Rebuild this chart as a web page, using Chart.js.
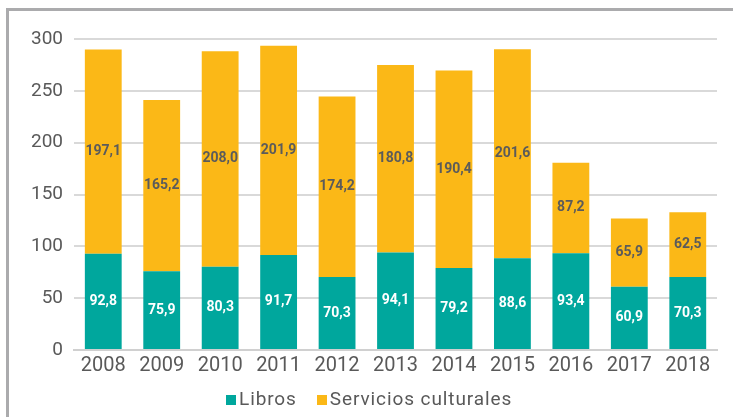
<!DOCTYPE html>
<html>
<head>
<meta charset="utf-8">
<script src="https://cdn.jsdelivr.net/npm/chart.js@4"></script>
<style>
  html, body { margin: 0; padding: 0; background: #fff; }
  #wrap { position: relative; width: 733px; height: 417px; overflow: hidden; }
  #frame { position: absolute; left: 6px; top: 8px; right: -10px; bottom: -10px;
           border-left: 3px solid #ababad; border-top: 3px solid #ababad; }
  canvas { position: absolute; left: 0; top: 0; }
  #legend { position: absolute; left: 226px; top: 387px; font: 19px Roboto, sans-serif;
            color: #595959; white-space: nowrap; letter-spacing: 0.9px; }
  #legend .box { display: inline-block; width: 10px; height: 10px; margin-right: 3px; }
  #legend .item + .item { margin-left: 20px; }
</style>
</head>
<body>
<div id="wrap">
  <div id="frame"></div>
  <canvas id="chart" width="733" height="417"></canvas>
  <div id="legend"></div>
</div>
<script>
const years = ['2008','2009','2010','2011','2012','2013','2014','2015','2016','2017','2018'];
const libros = [92.8, 75.9, 80.3, 91.7, 70.3, 94.1, 79.2, 88.6, 93.4, 60.9, 70.3];
const servicios = [197.1, 165.2, 208.0, 201.9, 174.2, 180.8, 190.4, 201.6, 87.2, 65.9, 62.5];

const FONT = 'Roboto, "DejaVu Sans", sans-serif';

// labels in the middle of each segment
const segLabels = {
  id: 'segLabels',
  afterDatasetsDraw(chart) {
    const ctx = chart.ctx;
    ctx.save();
    ctx.textAlign = 'center';
    ctx.textBaseline = 'middle';
    ctx.font = 'bold 14px ' + FONT;
    chart.data.datasets.forEach((ds, di) => {
      const meta = chart.getDatasetMeta(di);
      ctx.fillStyle = di === 0 ? '#ffffff' : '#5b5b5b';
      meta.data.forEach((bar, i) => {
        const txt = ds.data[i].toFixed(1).replace('.', ',');
        ctx.fillText(txt, bar.x, (bar.y + bar.base) / 2);
      });
    });
    ctx.restore();
  }
};

const chart = new Chart(document.getElementById('chart'), {
  type: 'bar',
  data: {
    labels: years,
    datasets: [
      { label: 'Libros', data: libros, backgroundColor: '#00a79d', barPercentage: 0.63, categoryPercentage: 1 },
      { label: 'Servicios culturales', data: servicios, backgroundColor: '#fbb817', barPercentage: 0.63, categoryPercentage: 1 }
    ]
  },
  options: {
    responsive: false,
    animation: false,
    layout: { padding: { left: 20, right: 16, top: 39, bottom: 35 } },
    plugins: {
      tooltip: { enabled: false },
      legend: { display: false }
    },
    scales: {
      x: {
        stacked: true,
        grid: { display: false, drawTicks: false },
        border: { color: '#d0d0d0', width: 2 },
        ticks: { color: '#595959', font: { family: FONT, size: 20 }, padding: 4 }
      },
      y: {
        stacked: true,
        min: 0, max: 300,
        ticks: { stepSize: 50, color: '#595959', font: { family: FONT, size: 19 }, padding: 11 },
        grid: { color: '#d9d9d9', lineWidth: 2, drawTicks: false },
        border: { display: false }
      }
    }
  },
  plugins: [segLabels]
});

// html legend
document.getElementById('legend').innerHTML = chart.data.datasets.map(ds =>
  `<span class="item"><span class="box" style="background:${ds.backgroundColor}"></span>${ds.label}</span>`
).join('');
</script>
</body>
</html>
